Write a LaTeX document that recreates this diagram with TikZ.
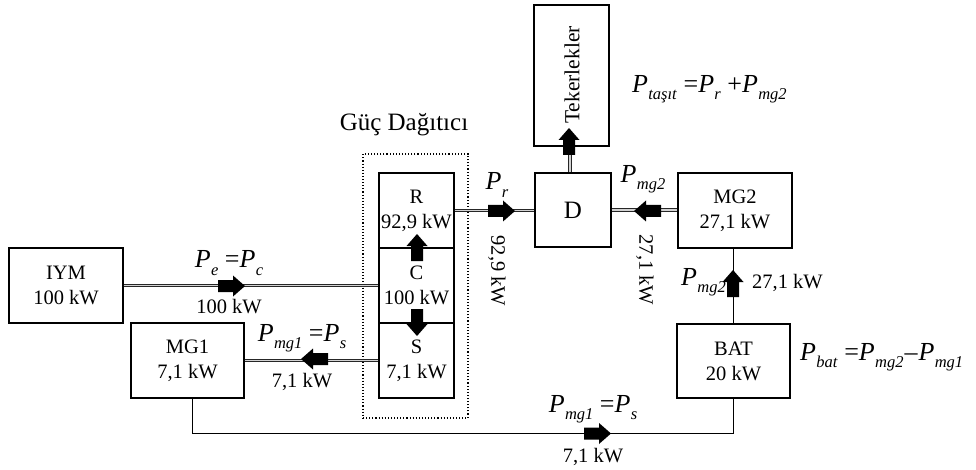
\documentclass[tikz,border=0pt]{standalone}
\usepackage{fontspec}
\setmainfont{Liberation Serif}
\usetikzlibrary{calc}
\newcommand{\Pv}[1]{\textit{P}\kern0.3pt\raisebox{-0.28em}{\fontsize{16.5}{16.5}\selectfont\textit{#1}}}
\tikzset{
  box/.style={draw, line width=1.1pt, minimum width=#1, inner sep=0pt, align=center, font=\fontsize{20.5}{25}\selectfont},
  box/.default=114pt,
  dbl/.style={draw=black!85, line width=0.9pt, double=gray!35, double distance=1.6pt},
  sgl/.style={draw, line width=1.4pt},
  lbl/.style={font=\fontsize{20.5}{24}\selectfont, inner sep=0pt},
  eq/.style={font=\fontsize{26}{28}\selectfont, inner sep=0pt},
  barrow/.pic={\fill (0,-6) -- (15,-6) -- (15,-10.5) -- (27,0) -- (15,10.5) -- (15,6) -- (0,6) -- cycle;}
}
\begin{document}
\begin{tikzpicture}[x=1pt,y=-1pt]
\useasboundingbox (0,0) rectangle (976,470);
% boxes
\node[box, minimum height=75pt] (iym) at (66,285.5) {IYM\\100 kW};
\node[box=113pt, minimum height=75pt] (mg1) at (187.5,360.5) {MG1\\7,1 kW};
\node[box=75pt, minimum height=75pt] (R) at (416.5,210.5) {R\\92,9 kW};
\node[box=75pt, minimum height=75pt] (C) at (416.5,285.5) {C\\100 kW};
\node[box=75pt, minimum height=75pt] (S) at (416.5,360.5) {S\\7,1 kW};
\node[draw, dotted, line width=1.1pt, minimum width=105pt, minimum height=264pt, inner sep=0pt] (gd) at (415.5,286) {};
\node[font=\fontsize{25}{28}\selectfont, inner sep=0pt] (gdl) at (404,125) {Güç Dağıtıcı};
\node[box=76pt, minimum height=74pt, font=\fontsize{25}{28}\selectfont] (D) at (573,210) {D};
\node[box, minimum height=75pt] (mg2) at (735,210.5) {MG2\\27,1 kW};
\node[box=113pt, minimum height=74pt] (bat) at (733.5,361) {BAT\\20 kW};
\node[box=75pt, minimum height=141pt] (tek) at (571.5,75.5) {};
\node[lbl, rotate=90, font=\fontsize{21.5}{24}\selectfont] (tekl) at (572,75) {Tekerlekler};
\coordinate (bot) at (733.5,433.5);
% connectors
\draw[dbl] (iym.east) -- (iym.east -| C.west);
\draw[dbl] (mg1.east -| S.west) -- (mg1.east);
\draw[dbl] (R.east) -- (R.east -| D.west);
\draw[dbl] (D.east) -- (D.east -| mg2.west);
\draw[dbl] ([xshift=-3pt]D.north) -- ([xshift=-3pt]D.north |- tek.south);
\draw[sgl] (bat.north) -- (bat.north |- mg2.south);
\draw[sgl] ([xshift=5pt]mg1.south) |- (bot) -- (bat.south);
% block arrows
\pic at (218,286) {barrow};
\pic[rotate=180] at (328,359) {barrow};
\pic[rotate=90] at (417,261) {barrow};
\pic[rotate=-90] at (417,309) {barrow};
\pic at (488,211) {barrow};
\pic[rotate=180] at (661,211) {barrow};
\pic[rotate=90] at (569,155) {barrow};
\pic[rotate=90] at (733,297) {barrow};
\pic at (584,433.5) {barrow};
% labels
\node[eq] (l1) at (229,263) {\Pv{e} =\Pv{c}};
\node[lbl] (l2) at (229,307) {100 kW};
\node[eq] (l3) at (302,338) {\Pv{mg1} =\Pv{s}};
\node[lbl] (l4) at (302,382) {7,1 kW};
\node[eq] (l5) at (497,185) {\Pv{r}};
\node[lbl, rotate=-90] (l6) at (497,271) {92,9 kW};
\node[eq] (l7) at (643,179) {\Pv{mg2}};
\node[lbl, rotate=-90] (l8) at (645,270) {27,1 kW};
\node[eq, anchor=west] (l9) at (632,89) {\Pv{taşıt} =\Pv{r} +\Pv{mg2}};
\node[eq, anchor=east] (l10) at (726,282) {\Pv{mg2}};
\node[lbl, anchor=west] (l11) at (752,283) {27,1 kW};
\node[eq, anchor=west] (l12) at (800,357) {\Pv{bat} =\Pv{mg2}\kern1pt\textendash\kern1pt\Pv{mg1}};
\node[eq] (l13) at (593,409) {\Pv{mg1} =\Pv{s}};
\node[lbl] (l14) at (593,457) {7,1 kW};
\end{tikzpicture}
\end{document}
